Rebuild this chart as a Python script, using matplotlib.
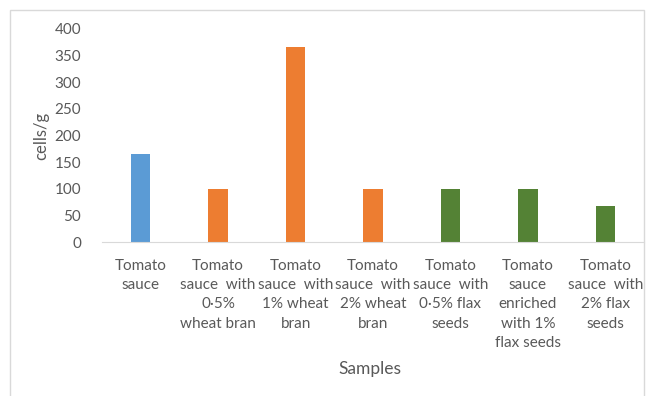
import matplotlib.pyplot as plt
import matplotlib.patches as mpatches

plt.rcParams['font.family'] = ['Lato', 'DejaVu Sans']

samples = ['Tomato\nsauce',
           'Tomato\nsauce  with\n0·5%\nwheat bran',
           'Tomato\nsauce  with\n1% wheat\nbran',
           'Tomato\nsauce  with\n2% wheat\nbran',
           'Tomato\nsauce  with\n0·5% flax\nseeds',
           'Tomato\nsauce\nenriched\nwith 1%\nflax seeds',
           'Tomato\nsauce  with\n2% flax\nseeds']
counts = [166, 100, 366, 100, 100, 100, 67]
colors = ['#5B9BD5', '#ED7D31', '#ED7D31', '#ED7D31', '#548235', '#548235', '#548235']

grey = '#595959'

fig = plt.figure(figsize=(6.51, 3.96), dpi=100)
# light frame around the chart area
fig.patches.append(mpatches.Rectangle((10/651, -0.01), 634/651, 1 - 10/396 + 0.01,
                                      transform=fig.transFigure, fill=False,
                                      edgecolor='#D9D9D9', lw=1))

ax = fig.add_axes([102/651, 1 - 242/396, 542/651, 213/396])
x = range(len(samples))
ax.bar(x, counts, width=0.25, color=colors)

ax.set_xlim(-0.5, len(samples) - 0.5)
ax.set_ylim(0, 400)
ax.set_yticks(range(0, 401, 50))
ax.set_xticks(list(x))
ax.set_xticklabels(samples, linespacing=1.48)

for s in ['top', 'right', 'left']:
    ax.spines[s].set_visible(False)
ax.spines['bottom'].set_color('#D9D9D9')
ax.tick_params(length=0, colors=grey, labelsize=11)
ax.tick_params(axis='y', pad=15)
ax.tick_params(axis='x', pad=12)

ax.set_ylabel('cells/g', color=grey, fontsize=12, labelpad=4)
fig.text(370/651, 1 - 369/396, 'Samples', color=grey, fontsize=12.5,
         ha='center', va='center')

fig.savefig('out.png', dpi=100)
